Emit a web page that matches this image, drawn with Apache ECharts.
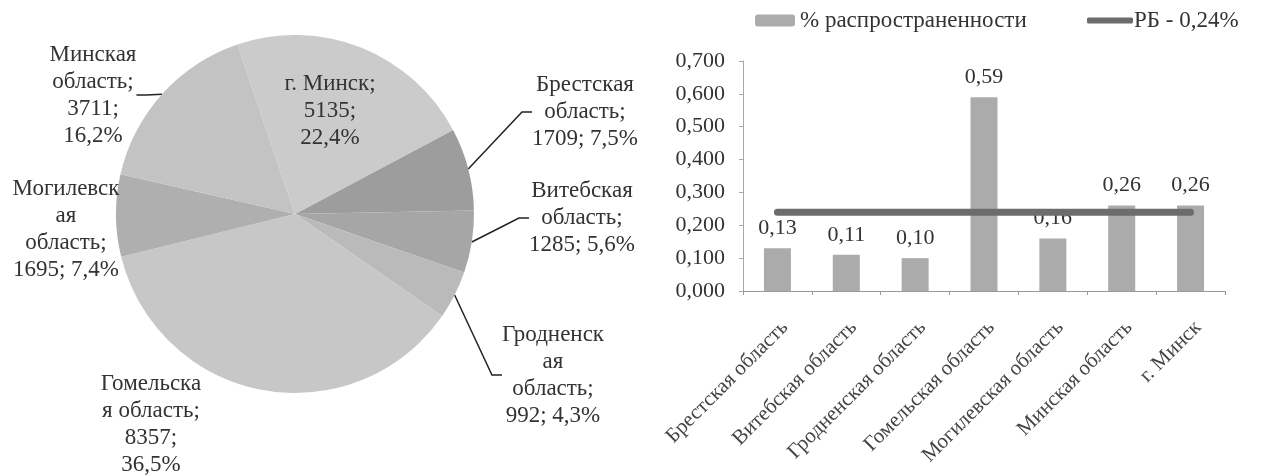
<!DOCTYPE html>
<html>
<head>
<meta charset="utf-8">
<script src="https://cdn.jsdelivr.net/npm/echarts@6/dist/echarts.min.js"></script>
<style>
  html, body { margin: 0; padding: 0; background: #fff; }
  #chart { width: 1268px; height: 475px; }
</style>
</head>
<body>
<div id="chart"></div>
<script>
// ---- pie: число случаев по регионам
var regions = ['Брестская область', 'Витебская область', 'Гродненская область', 'Гомельская область',
    'Могилевская область', 'Минская область', 'г. Минск'];
var cases = [1709, 1285, 992, 8357, 1695, 3711, 5135];
// name as wrapped in the picture, and separator between count and percent
var pieNames = ['Брестская\nобласть', 'Витебская\nобласть', 'Гродненск\nая\nобласть', 'Гомельска\nя область',
    'Могилевск\nая\nобласть', 'Минская\nобласть', 'г. Минск'];
var pieSep = [' ', ' ', ' ', '\n', ' ', '\n', '\n'];

// ---- bars: % распространенности
var barCats = regions;
var prevalence = [0.13, 0.11, 0.10, 0.59, 0.16, 0.26, 0.26];
var rbLevel = 0.24;
var rbLine = barCats.map(function () { return rbLevel; });

var pieColors = ['#9d9d9d', '#a6a6a6', '#bababa', '#c7c7c7', '#afafaf', '#c3c3c3', '#cbcbcb'];
// label centres (x, y) for the pie
var pieLabelPos = [[585, 112], [582, 218], [553, 375], [151, 424], [66, 229], [93, 95], [330, 111]];
var pieLine = [true, true, true, false, false, true, false];

var serif = 'Liberation Serif, Times New Roman, serif';
var txt = '#333';
var total = cases.reduce(function (a, b) { return a + b; }, 0);

var chart = echarts.init(document.getElementById('chart'), null, { renderer: 'canvas' });

var pieData = cases.map(function (v, i) {
    return {
        name: regions[i],
        value: v,
        itemStyle: { color: pieColors[i] },
        labelLine: { show: pieLine[i] }
    };
});

option = {
    animation: false,
    textStyle: { fontFamily: serif },
    legend: [{
        data: ['% распространенности'],
        left: 750,
        top: 4,
        itemWidth: 40,
        itemHeight: 12,
        itemGap: 4,
        textStyle: { fontFamily: serif, fontSize: 23, color: txt }
    }, {
        data: [{ name: 'РБ - 0,24%', icon: 'roundRect' }],
        left: 1082,
        top: 4,
        itemWidth: 46,
        itemHeight: 6,
        textStyle: { fontFamily: serif, fontSize: 23, color: txt, padding: [0, 0, 0, -4] }
    }],
    grid: {
        left: 743,
        right: 43,
        top: 61,
        bottom: 184
    },
    xAxis: {
        type: 'category',
        data: barCats,
        axisLine: { lineStyle: { color: '#9a9a9a' } },
        axisTick: { show: true, alignWithLabel: false, length: 4, lineStyle: { color: '#9a9a9a' } },
        axisLabel: {
            rotate: 45,
            interval: 0,
            margin: 26,
            verticalAlign: 'top',
            fontFamily: serif,
            fontSize: 21,
            color: '#444'
        }
    },
    yAxis: {
        type: 'value',
        min: 0,
        max: 0.7,
        interval: 0.1,
        axisLine: { show: true, lineStyle: { color: '#a8a8a8' } },
        axisTick: { show: true, length: 4, lineStyle: { color: '#a8a8a8' } },
        splitLine: { show: false },
        axisLabel: {
            fontFamily: serif,
            fontSize: 22,
            color: txt,
            margin: 18,
            formatter: function (val) {
                return val.toFixed(3).replace('.', ',');
            }
        }
    },
    series: [{
        type: 'pie',
        center: [295, 214],
        radius: 179,
        startAngle: 28,
        clockwise: true,
        data: pieData,
        emphasis: { disabled: true },
        label: {
            show: true,
            position: 'outside',
            overflow: 'none',
            fontFamily: serif,
            fontSize: 23,
            lineHeight: 27,
            color: txt,
            align: 'center',
            formatter: function (p) {
                var i = p.dataIndex;
                var pct = (p.value / total * 100).toFixed(1).replace('.', ',');
                return pieNames[i] + ';\n' + p.value + ';' + pieSep[i] + pct + '%';
            }
        },
        labelLine: {
            show: true,
            length: 10,
            length2: 10,
            lineStyle: { color: '#222', width: 1.5 }
        },
        labelLayout: function (params) {
            var pos = pieLabelPos[params.dataIndex];
            return {
                x: pos[0],
                y: pos[1],
                align: 'center',
                verticalAlign: 'middle'
            };
        }
    }, {
        name: '% распространенности',
        type: 'bar',
        data: prevalence,
        barWidth: 27,
        itemStyle: { color: '#ababab' },
        label: {
            show: true,
            position: 'top',
            distance: 9,
            fontFamily: serif,
            fontSize: 22,
            color: txt,
            formatter: function (p) {
                return p.value.toFixed(2).replace('.', ',');
            }
        }
    }, {
        name: 'РБ - 0,24%',
        type: 'line',
        data: rbLine,
        symbol: 'none',
        z: 3,
        lineStyle: { color: '#6c6c6c', width: 7, cap: 'round' },
        itemStyle: { color: '#6c6c6c' }
    }]
};

chart.setOption(option);
</script>
</body>
</html>
